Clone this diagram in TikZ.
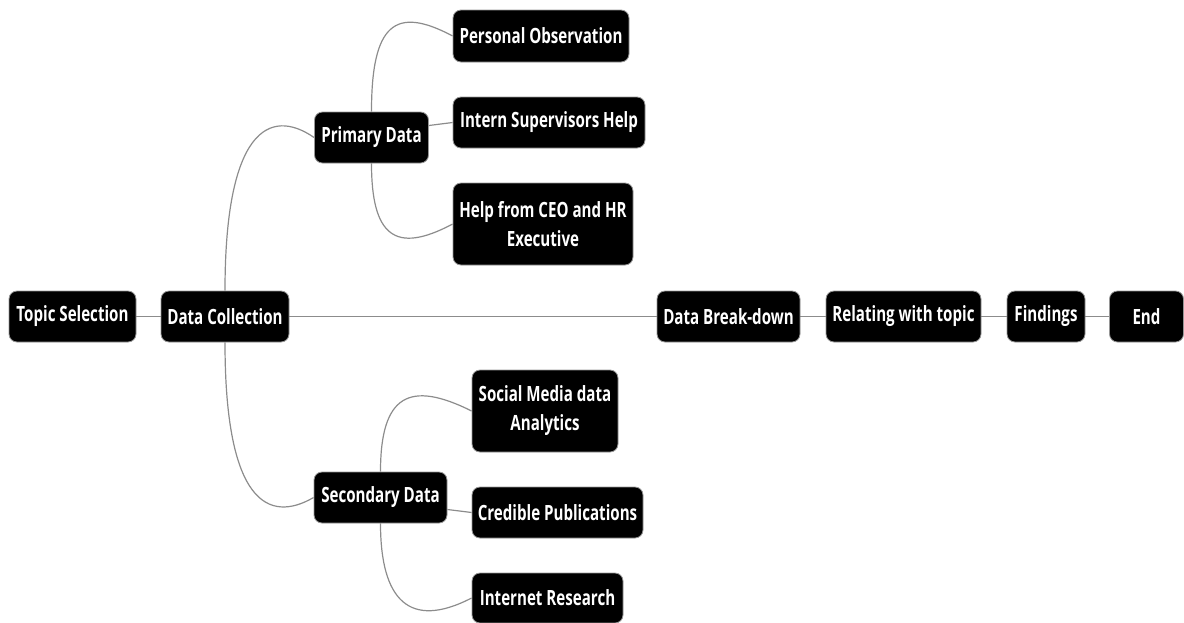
\documentclass[tikz,border=0pt]{standalone}
\usepackage{fontspec}
\newfontfamily\nodefont{Open Sans}[FakeStretch=0.72]
\usetikzlibrary{backgrounds}
\definecolor{linkgray}{RGB}{140,140,140}
\definecolor{rimgray}{RGB}{150,150,150}
\begin{document}
\begin{tikzpicture}[x=1pt,y=-1pt,
  box/.style={fill=black, draw=rimgray, line width=0.8pt, rounded corners=8pt,
    text=white, font=\nodefont\bfseries\fontsize{21}{29}\selectfont,
    inner sep=0pt, align=center, minimum height=51pt},
  link/.style={draw=linkgray, line width=1.2pt}]
\useasboundingbox (0,0) rectangle (1184,622);
\node[box, minimum width=127pt] (ts) at (72.5,316.5) {Topic Selection};
\node[box, minimum width=128pt] (dc) at (225,316.5) {Data Collection};
\node[box, minimum width=114pt] (pd) at (371.5,137.5) {Primary Data};
\node[box, minimum width=176pt, minimum height=52pt] (po) at (541,36) {Personal Observation};
\node[box, minimum width=192pt] (is) at (549,122.5) {Intern Supervisors Help};
\node[box, minimum width=180pt, minimum height=82pt] (ceo) at (543,224) {Help from CEO and HR\\Executive};
\node[box, minimum width=133pt] (sd) at (380.5,497.5) {Secondary Data};
\node[box, minimum width=146pt, minimum height=82pt] (sm) at (545,411) {Social Media data\\Analytics};
\node[box, minimum width=171pt] (cp) at (557.5,512.5) {Credible Publications};
\node[box, minimum width=151pt, minimum height=50pt] (ir) at (547.5,598) {Internet Research};
\node[box, minimum width=143pt] (db) at (728.5,316.5) {Data Break-down};
\node[box, minimum width=155pt] (rt) at (903.5,316.5) {Relating with topic};
\node[box, minimum width=78pt] (fi) at (1046,316.5) {Findings};
\node[box, minimum width=74pt] (en) at (1146.5,316.5) {End};
\begin{pgfonlayer}{background}
\draw[link] (ts.east) -- (dc.west);
\draw[link] (dc.east) -- (db.west);
\draw[link] (db.east) -- (rt.west);
\draw[link] (rt.east) -- (fi.west);
\draw[link] (fi.east) -- (en.west);
\draw[link] (dc.north) .. controls +(0,-160) and +(-45,-31) .. (pd.west);
\draw[link] (dc.south) .. controls +(0,161) and +(-45,26) .. (sd.west);
\draw[link] (pd.north) .. controls +(0,-87) and +(-58,-31) .. (po.west);
\draw[link] ([yshift=12pt]pd.east) -- (is.west);
\draw[link] (pd.south) .. controls +(0,72) and +(-58,31) .. (ceo.west);
\draw[link] (sd.north) .. controls +(0,-77) and +(-62,-31) .. (sm.west);
\draw[link] ([yshift=-12pt]sd.east) -- (cp.west);
\draw[link] (sd.south) .. controls +(0,77) and +(-62,32) .. (ir.west);
\end{pgfonlayer}
\end{tikzpicture}
\end{document}
